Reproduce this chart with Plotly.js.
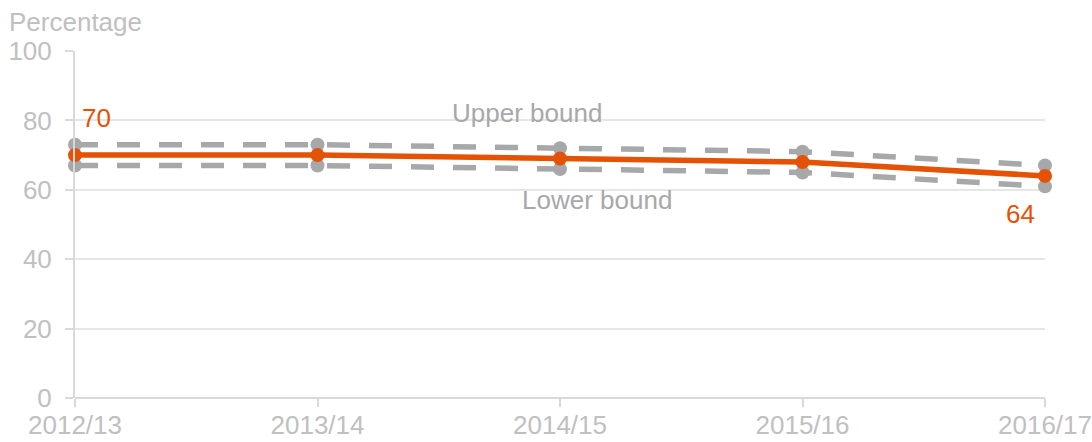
<!DOCTYPE html>
<html><head><meta charset="utf-8">
<script src="https://cdn.plot.ly/plotly-3.0.1.min.js"></script>
<style>html,body{margin:0;padding:0;background:#fff}</style>
</head><body>
<div id="chart" style="width:1092px;height:442px"></div>
<script>
const years = ["2012/13","2013/14","2014/15","2015/16","2016/17"];
const rate = [70, 70, 69, 68, 64];
const upper = [73, 73, 72, 71, 67];
const lower = [67, 67, 66, 65, 61];
const yTicks = [0, 20, 40, 60, 80, 100];

const orange = "#e35205";
const grey = "#a7a8aa";
const txt = "#c0c0c0";
const font = "Liberation Sans, Arial, sans-serif";

const traces = [
  {x: years, y: upper, type: "scatter", mode: "lines+markers",
   line: {color: grey, width: 5.5, dash: "23px,19px"}, marker: {color: grey, size: 14}, cliponaxis: false},
  {x: years, y: lower, type: "scatter", mode: "lines+markers",
   line: {color: grey, width: 5.5, dash: "23px,19px"}, marker: {color: grey, size: 14}, cliponaxis: false},
  {x: years, y: rate, type: "scatter", mode: "lines+markers",
   line: {color: orange, width: 5.5}, marker: {color: orange, size: 14}, cliponaxis: false}
];

const layout = {
  width: 1092, height: 442,
  margin: {l: 75, r: 47, t: 51, b: 44},
  paper_bgcolor: "#fff", plot_bgcolor: "#fff",
  showlegend: false,
  font: {family: font, color: txt, size: 26},
  xaxis: {type: "category", range: [0, 4], showgrid: false, zeroline: false,
    showline: false, ticks: "outside", ticklen: 8, tickcolor: "#d9d9d9", tickwidth: 2,
    ticklabelstandoff: -4, tickfont: {size: 26, color: txt}, fixedrange: true},
  yaxis: {range: [0, 100], tickvals: yTicks, showgrid: true, gridcolor: "#e6e6e6", gridwidth: 2,
    zeroline: true, zerolinecolor: "#d9d9d9", zerolinewidth: 2,
    showline: true, linecolor: "#d9d9d9", linewidth: 2,
    ticks: "outside", ticklen: 8, tickcolor: "#d9d9d9", tickwidth: 2, ticklabelstandoff: 8,
    tickfont: {size: 26, color: txt}, fixedrange: true},
  annotations: [
    {xref: "paper", yref: "paper", x: -0.07, y: 1.035, xanchor: "left", yanchor: "bottom",
     text: "Percentage", showarrow: false, font: {size: 26, color: txt}},
    {x: years[2], y: 82, text: "Upper bound", showarrow: false, xanchor: "center",
     xshift: -33, font: {size: 26, color: "#a7a8aa"}},
    {x: years[2], y: 57, text: "Lower bound", showarrow: false, xanchor: "center",
     xshift: 37, font: {size: 26, color: "#a7a8aa"}},
    {x: years[0], y: rate[0], text: String(rate[0]), showarrow: false, xanchor: "center",
     xshift: 21, yshift: 37, font: {size: 26, color: orange}},
    {x: years[4], y: rate[4], text: String(rate[4]), showarrow: false, xanchor: "center",
     xshift: -25, yshift: -38, font: {size: 26, color: orange}}
  ]
};

Plotly.newPlot("chart", traces, layout, {displayModeBar: false, staticPlot: true});
</script>
</body></html>
